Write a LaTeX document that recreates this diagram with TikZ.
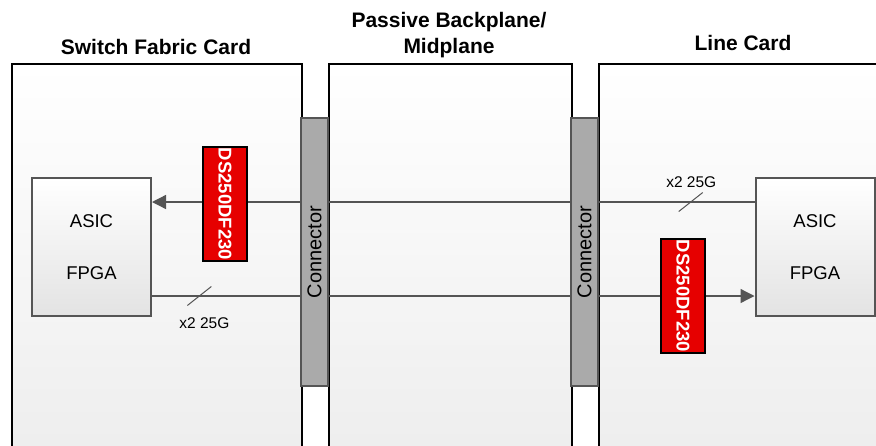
\documentclass[tikz,border=0pt]{standalone}
\usepackage{fontspec}
\setmainfont{Liberation Sans}
\usepackage{graphicx}
\usepackage{xcolor}
\usetikzlibrary{arrows.meta,calc}
\definecolor{linegray}{HTML}{555555}
\definecolor{conngray}{HTML}{AAAAAA}
\definecolor{chipred}{HTML}{E60000}
\tikzset{
	card/.style={draw=black, line width=2pt, top color=white, bottom color=black!7,
			anchor=north west, inner sep=0pt, minimum height=400pt},
	conn/.style={draw=linegray, line width=2pt, fill=conngray, inner sep=0pt,
			minimum width=27pt, minimum height=268pt, font=\fontsize{20}{24}\selectfont},
	chip/.style={draw=linegray, line width=2pt, top color=white, bottom color=black!11,
			minimum width=119pt, minimum height=138pt, align=center,
			font=\fontsize{18.5}{51.5}\selectfont},
	redriver/.style={draw=black, line width=1.6pt, fill=chipred, text=white, inner sep=0pt,
			minimum width=44pt, minimum height=114pt, font=\bfseries\fontsize{18.5}{20}\selectfont},
	sig/.style={draw=linegray, line width=1.3pt},
	tip/.style={-{Triangle[length=14pt,width=14pt]}},
	tick/.style={draw=linegray, line width=1pt},
	title/.style={font=\bfseries\fontsize{21}{26}\selectfont, align=center},
	rate/.style={font=\fontsize{15.5}{18}\selectfont}
}

\begin{document}
\begin{tikzpicture}[x=1pt, y=-1pt]
	\clip (0,0) rectangle (876,445);

	\node[card, minimum width=290pt] (sfc) at (11,63) {};
	\node[card, minimum width=243pt] (mid) at (328,63) {};
	\node[card, minimum width=290pt] (lc) at (598,63) {};

	\node[title, anchor=base] (t1) at (156,54) {Switch Fabric Card};
	\node[title, anchor=base] (t2) at (449,53.3) {Passive Backplane/\\Midplane};
	\node[title, anchor=base] (t3) at (743,50) {Line Card};

	\node[conn] (c1) at (314.5,252) {\rotatebox{90}{Connector}};
	\node[conn] (c2) at (584.5,252) {\rotatebox{90}{Connector}};

	\node[chip] (a1) at (91.5,247) {ASIC\\FPGA};
	\node[chip] (a2) at (815,247) {ASIC\\FPGA};

	\coordinate (top) at (0,202);
	\coordinate (bot) at (0,296);

	\draw[sig, tip] (c1.west |- top) -- (a1.east |- top);
	\draw[sig] (a1.east |- bot) -- coordinate[pos=0.32] (s1) (c1.west |- bot);
	\draw[sig] (c1.east |- top) -- (c2.west |- top);
	\draw[sig] (c1.east |- bot) -- (c2.west |- bot);
	\draw[sig] (c2.east |- top) -- coordinate[pos=0.59] (s2) (a2.west |- top);
	\draw[sig, tip] (c2.east |- bot) -- (a2.west |- bot);

	\node[redriver] (d1) at (225,204) {\rotatebox{-90}{DS250DF230}};
	\node[redriver] (d2) at (683,296) {\rotatebox{-90}{DS250DF230}};

	\draw[tick] ($(s1)+(-12,9.5)$) -- ($(s1)+(12,-9.5)$);
	\draw[tick] ($(s2)+(-12,9.5)$) -- ($(s2)+(12,-9.5)$);
	\node[rate] (r1) at ($(s1)+(5,27.5)$) {x2 25G};
	\node[rate] (r2) at ($(s2)+(0.5,-20)$) {x2 25G};
\end{tikzpicture}
\end{document}
